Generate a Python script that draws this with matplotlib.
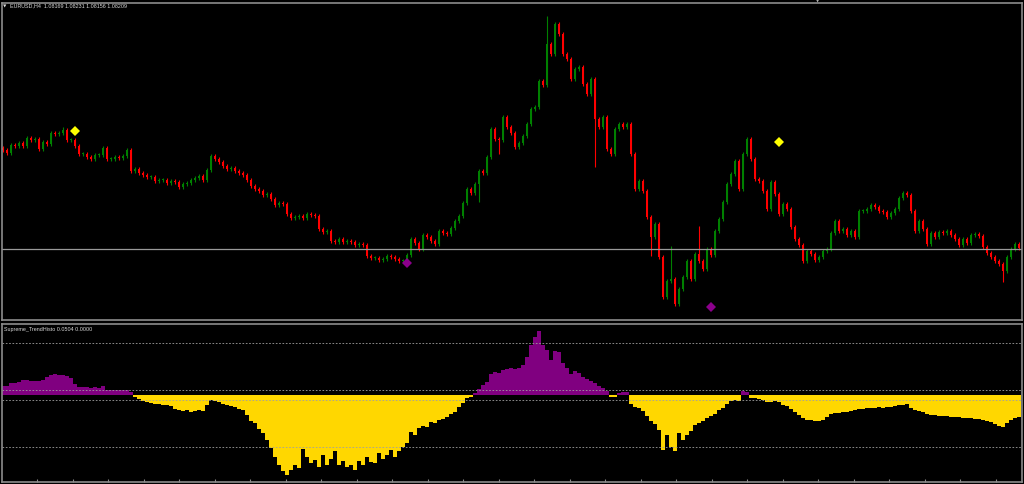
import matplotlib
matplotlib.use("Agg")
import matplotlib.pyplot as plt
import numpy as np

# EURUSD H4 closes (one value per bar)
closes = [
    1.0920, 1.0917, 1.0925, 1.0924, 1.0927, 1.0924, 1.0932, 1.0930, 1.0931, 1.0921,
    1.0928, 1.0926, 1.0937, 1.0936, 1.0937, 1.0940, 1.0930, 1.0930, 1.0924, 1.0916,
    1.0916, 1.0913, 1.0911, 1.0915, 1.0915, 1.0922, 1.0911, 1.0911, 1.0913, 1.0912,
    1.0914, 1.0920, 1.0899, 1.0901, 1.0897, 1.0895, 1.0893, 1.0893, 1.0889, 1.0890,
    1.0890, 1.0887, 1.0889, 1.0888, 1.0883, 1.0886, 1.0887, 1.0890, 1.0892, 1.0894,
    1.0890, 1.0900, 1.0914, 1.0911, 1.0908, 1.0904, 1.0901, 1.0902, 1.0899, 1.0897,
    1.0895, 1.0890, 1.0884, 1.0881, 1.0879, 1.0875, 1.0876, 1.0871, 1.0865, 1.0867,
    1.0866, 1.0856, 1.0852, 1.0853, 1.0854, 1.0852, 1.0856, 1.0855, 1.0854, 1.0841,
    1.0838, 1.0839, 1.0829, 1.0828, 1.0831, 1.0828, 1.0829, 1.0828, 1.0825, 1.0826,
    1.0825, 1.0814, 1.0812, 1.0812, 1.0810, 1.0811, 1.0814, 1.0813, 1.0811, 1.0809,
    1.0809, 1.0815, 1.0831, 1.0827, 1.0821, 1.0835, 1.0833, 1.0829, 1.0826, 1.0839,
    1.0837, 1.0836, 1.0842, 1.0849, 1.0854, 1.0867, 1.0881, 1.0877, 1.0886, 1.0899,
    1.0897, 1.0913, 1.0941, 1.0931, 1.0930, 1.0953, 1.0943, 1.0937, 1.0923, 1.0927,
    1.0934, 1.0946, 1.0961, 1.0963, 1.0989, 1.0985, 1.1026, 1.1016, 1.1046, 1.1036,
    1.1016, 1.1011, 1.0991, 1.1001, 1.1003, 1.0986, 1.0976, 1.0991, 1.0951, 1.0943,
    1.0953, 1.0921, 1.0916, 1.0941, 1.0946, 1.0943, 1.0946, 1.0916, 1.0881, 1.0889,
    1.0879, 1.0853, 1.0833, 1.0846, 1.0813, 1.0773, 1.0789, 1.0791, 1.0766, 1.0781,
    1.0793, 1.0809, 1.0791, 1.0816, 1.0809, 1.0801, 1.0821, 1.0815, 1.0839, 1.0851,
    1.0868, 1.0886, 1.0896, 1.0909, 1.0881, 1.0916, 1.0931, 1.0911, 1.0891, 1.0889,
    1.0879, 1.0861, 1.0888, 1.0876, 1.0856, 1.0866, 1.0861, 1.0843, 1.0831, 1.0825,
    1.0809, 1.0819, 1.0816, 1.0810, 1.0813, 1.0819, 1.0821, 1.0837, 1.0849, 1.0839,
    1.0841, 1.0835, 1.0839, 1.0833, 1.0859, 1.0859, 1.0861, 1.0865, 1.0863, 1.0859,
    1.0858, 1.0853, 1.0857, 1.0861, 1.0872, 1.0877, 1.0875, 1.0859, 1.0839, 1.0849,
    1.0841, 1.0826, 1.0837, 1.0833, 1.0838, 1.0837, 1.0839, 1.0835, 1.0831, 1.0825,
    1.0831, 1.0827, 1.0835, 1.0836, 1.0834, 1.0823, 1.0817, 1.0813, 1.0809, 1.0806,
    1.0799, 1.0813, 1.0821, 1.0826, 1.0822,
]
first_open = 1.0922

# bars whose wick clearly sticks out of the body
wick_highs = {15: 1.0943, 136: 1.1054, 167: 1.0824, 174: 1.0844}
wick_lows = {119: 1.0868, 124: 1.0916, 148: 1.0903, 162: 1.0814, 250: 1.0788}

# signal arrows of the indicator (bar index, price)
sell_idx = [18, 194]
sell_price = [1.0939, 1.0928]
buy_idx = [101, 177]
buy_price = [1.0807, 1.0763]

bid = 1.0821

# Supreme_TrendHisto values (x 0.001)
histo = [
    9, 9, 12, 12, 13, 15, 15, 14, 14, 14, 15, 18, 20, 21, 20, 20, 19, 17, 11, 8,
    8, 8, 7, 8, 7, 9, 5, 5, 5, 5, 5, 5, 3, -2, -4, -6, -7, -8, -9, -9,
    -10, -10, -11, -14, -15, -16, -15, -17, -16, -15, -16, -10, -5, -6, -7, -9, -10, -11, -12, -14,
    -15, -20, -26, -28, -34, -38, -45, -53, -62, -70, -76, -80, -75, -70, -73, -54, -62, -68, -65, -72,
    -60, -70, -64, -56, -70, -66, -72, -70, -75, -66, -70, -62, -67, -68, -58, -64, -60, -55, -62, -56,
    -52, -48, -37, -40, -33, -31, -32, -27, -28, -25, -24, -22, -19, -17, -12, -8, -3, -2, 2, 6,
    10, 13, 21, 23, 22, 25, 26, 27, 26, 27, 30, 38, 50, 58, 64, 50, 45, 35, 44, 43,
    32, 27, 21, 24, 22, 18, 16, 14, 12, 9, 7, 4, -2, -2, 2, 3, 3, -9, -12, -13,
    -16, -21, -26, -29, -35, -55, -40, -52, -56, -38, -45, -40, -36, -30, -28, -26, -23, -21, -19, -15,
    -13, -9, -6, -5, -6, 4, 3, -3, -3, -4, -5, -7, -7, -6, -7, -10, -11, -14, -17, -20,
    -23, -25, -25, -26, -26, -25, -22, -19, -18, -18, -17, -17, -16, -15, -14, -14, -13, -13, -13, -12,
    -13, -12, -12, -11, -10, -10, -9, -13, -15, -16, -17, -19, -20, -20, -21, -21, -21, -22, -22, -22,
    -23, -23, -23, -24, -24, -25, -26, -27, -29, -31, -32, -28, -25, -23, -22,
]
levels = [52, 5, -5, -52]

BG = "black"
GRID = "#8c8c8c"
UP = "#008000"
DOWN = "#ff0000"

closes = np.array(closes)
opens = np.concatenate([[first_open], closes[:-1]])
idx = np.arange(len(closes))
body_lo = np.minimum(opens, closes)
body_hi = np.maximum(opens, closes)
highs = body_hi + 0.0002
lows = body_lo - 0.0002
for k, v in wick_highs.items():
    highs[k] = v
for k, v in wick_lows.items():
    lows[k] = v
colors = np.where(closes >= opens, UP, DOWN)

fig = plt.figure(figsize=(10.24, 4.85), dpi=100, facecolor=BG)
W, H = 1024.0, 485.0
ax = fig.add_axes([2 / W, 1 - 321 / H, 1020 / W, 317 / H], facecolor=BG)
ax2 = fig.add_axes([2 / W, 1 - 483 / H, 1020 / W, 158 / H], facecolor=BG)

# candles
ax.vlines(idx, lows, highs, colors=colors, linewidth=0.8)
ax.bar(idx, np.maximum(body_hi - body_lo, 0.00008), bottom=body_lo, width=0.62,
       color=colors, linewidth=0)
ax.axhline(bid, color="#9a9a9a", linewidth=0.9)
ax.plot(sell_idx, sell_price, linestyle="none", marker="D", markersize=5,
        color="#ffff00", markeredgewidth=0)
ax.plot(buy_idx, buy_price, linestyle="none", marker="D", markersize=5,
        color="#8b008b", markeredgewidth=0)
ax.set_xlim(-0.25, len(closes) - 0.25)
ax.set_ylim(1.0750, 1.1067)

# histogram
histo = np.array(histo) / 1000.0
hcol = np.where(histo > 0, "#800080", "#ffd700")
ax2.bar(idx, histo, width=1.05, color=hcol, linewidth=0)
for lv in levels:
    ax2.axhline(lv / 1000.0, color="#a0a0a0", linewidth=0.6, linestyle=(0, (2, 2)))
ax2.set_xlim(-0.25, len(closes) - 0.25)
ax2.set_ylim(-0.087, 0.071)

for a in (ax, ax2):
    a.set_yticks([])
    for s in a.spines.values():
        s.set_color(GRID)
        s.set_linewidth(1.2)
ax.set_xticks([])
ax2.set_xticks(np.arange(8.5, len(closes), 8.875))
ax2.tick_params(axis="x", direction="in", length=2.5, color=GRID, labelbottom=False)

txt = dict(color="#d8d8d8", fontsize=3.9, family="Liberation Sans", va="center")
fig.text(3 / W, 1 - 6 / H, "\u25bc", color="#d8d8d8", fontsize=3.2, va="center",
         family="DejaVu Sans")
fig.text(10 / W, 1 - 6 / H, "EURUSD,H4  1.08169 1.08231 1.08156 1.08209", **txt)
fig.text(4 / W, 1 - 329 / H, "Supreme_TrendHisto 0.0504 0.0000", **txt)
# chart-shift marker on the top border
fig.text(818 / W, 1 - 1.5 / H, "\u25bc", color="#b0b0b0", fontsize=3.0, ha="center",
         va="center", family="DejaVu Sans")

fig.savefig("out.png", dpi=100, facecolor=BG)
